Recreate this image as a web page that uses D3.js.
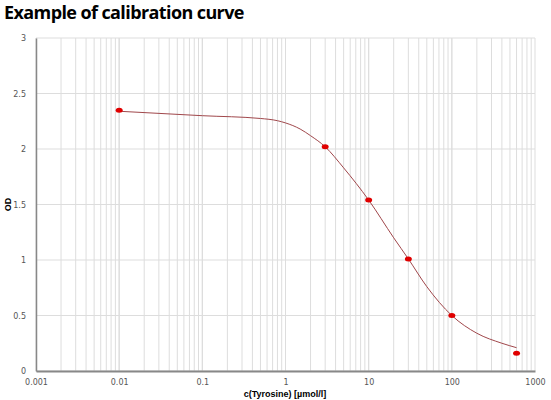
<!DOCTYPE html>
<html><head><meta charset="utf-8">
<script src="https://cdn.jsdelivr.net/npm/d3@7"></script>
<style>
body{margin:0;background:#fff;}
.tick text{font-family:"DejaVu Sans",sans-serif;font-size:8px;fill:#555;}
</style></head>
<body><div id="chart"></div>
<script>
var pointConc = [0.01, 3, 10, 30, 100, 600];
var pointOD = [2.35, 2.02, 1.54, 1.01, 0.50, 0.16];
var curveConc = [0.01, 0.1, 0.5, 0.8, 1, 1.5, 2, 3, 5, 10, 20, 30, 50, 100, 200, 400, 600];
var curveOD = [2.34, 2.30, 2.275, 2.255, 2.235, 2.18, 2.12, 2.02, 1.83, 1.54, 1.20, 1.01, 0.76, 0.50, 0.34, 0.25, 0.21];
var xTicks = [0.001, 0.01, 0.1, 1, 10, 100, 1000];
var yTicks = [0, 0.5, 1, 1.5, 2, 2.5, 3];

var svgWidth = 551, svgHeight = 400;
var margin = {top: 38, right: 16, bottom: 29, left: 36};
var width = svgWidth - margin.left - margin.right;
var height = svgHeight - margin.top - margin.bottom;

var svg = d3.select("#chart").append("svg")
  .attr("width", svgWidth).attr("height", svgHeight);

svg.append("text").attr("x", 4).attr("y", 19)
  .attr("font-family", "Open Sans, sans-serif").attr("font-weight", "bold")
  .attr("font-size", "18px").attr("letter-spacing", "-0.6px")
  .text("Example of calibration curve");

var g = svg.append("g").attr("transform", `translate(${margin.left},${margin.top})`);

var x = d3.scaleLog().domain([0.001, 1000]).range([0, width]);
var y = d3.scaleLinear().domain([0, 3]).range([height, 0]);

var gridX = [];
for (var e = -3; e < 3; e++) for (var m = 1; m <= 10; m++) gridX.push(m * Math.pow(10, e));
g.selectAll(".vg").data(gridX).enter().append("line")
  .attr("x1", d => x(d)).attr("x2", d => x(d)).attr("y1", 0).attr("y2", height)
  .attr("stroke", "#ddd").attr("stroke-width", 1);
g.selectAll(".hg").data(yTicks).enter().append("line")
  .attr("x1", 0).attr("x2", width).attr("y1", d => y(d)).attr("y2", d => y(d))
  .attr("stroke", "#ddd").attr("stroke-width", 1);

var xAxis = d3.axisBottom(x).tickValues(xTicks).tickFormat(d => String(+d.toPrecision(3))).tickSize(0).tickPadding(8);
var yAxis = d3.axisLeft(y).tickValues(yTicks).tickFormat(d => String(d)).tickSize(0).tickPadding(10);
g.append("g").attr("transform", `translate(0,${height})`).call(xAxis)
  .select(".domain").attr("stroke", "#888").attr("stroke-width", 2);
g.append("g").call(yAxis).select(".domain").attr("stroke", "#888").attr("stroke-width", 1.5);

var curve = curveConc.map((c, i) => [c, curveOD[i]]);
g.append("path").datum(curve)
  .attr("d", d3.line().x(d => x(d[0])).y(d => y(d[1])).curve(d3.curveMonotoneX))
  .attr("fill", "none").attr("stroke", "#a0474b").attr("stroke-width", 1);

g.selectAll("ellipse").data(pointConc).enter().append("ellipse")
  .attr("cx", d => x(d)).attr("cy", (d, i) => y(pointOD[i]))
  .attr("rx", 3.5).attr("ry", 2.5).attr("fill", "#e00000");

svg.append("text").attr("x", 285).attr("y", 397)
  .attr("text-anchor", "middle").attr("font-family", "Liberation Sans, Arial, sans-serif")
  .attr("font-weight", "bold").attr("font-size", "9px").text("c(Tyrosine) [µmol/l]");
svg.append("text").attr("transform", `translate(11,${margin.top + height / 2}) rotate(-90)`)
  .attr("text-anchor", "middle").attr("font-family", "Liberation Sans, Arial, sans-serif")
  .attr("font-weight", "bold").attr("font-size", "9px").text("OD");
</script></body></html>
